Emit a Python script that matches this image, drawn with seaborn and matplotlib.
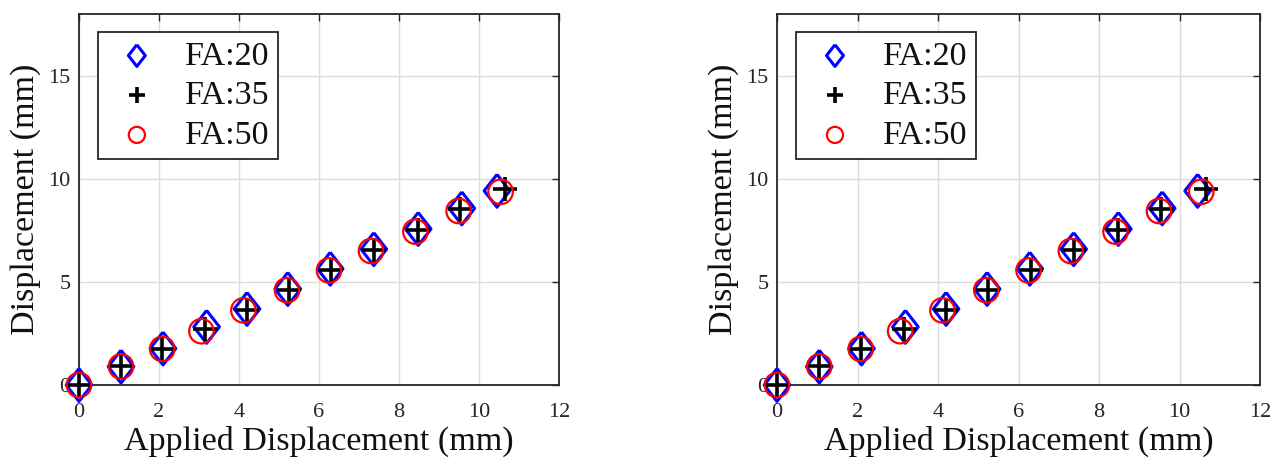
import numpy as np
import pandas as pd
import matplotlib
matplotlib.use("Agg")
import matplotlib.pyplot as plt
import seaborn as sns

# ---- data ----
labels = ["FA:20", "FA:35", "FA:50"]
x_fa20 = [0, 1.05, 2.10, 3.19, 4.20, 5.22, 6.28, 7.37, 8.48, 9.57, 10.45]
y_fa20 = [0, 0.89, 1.77, 2.82, 3.69, 4.66, 5.64, 6.59, 7.57, 8.57, 9.42]
x_fa35 = [0, 1.05, 2.08, 3.15, 4.20, 5.25, 6.30, 7.37, 8.48, 9.53, 10.66]
y_fa35 = [0, 0.90, 1.75, 2.74, 3.66, 4.62, 5.60, 6.56, 7.52, 8.53, 9.53]
x_fa50 = [0, 1.05, 2.08, 3.06, 4.11, 5.20, 6.25, 7.30, 8.41, 9.49, 10.54]
y_fa50 = [0, 0.90, 1.75, 2.61, 3.62, 4.60, 5.56, 6.50, 7.44, 8.44, 9.37]
xticks = [0, 2, 4, 6, 8, 10, 12]
yticks = [0, 5, 10, 15]
xlabel = "Applied Displacement (mm)"
ylabel = "Displacement (mm)"

sns.set_theme(style="white")
plt.rcParams["font.family"] = ["Liberation Serif", "DejaVu Serif"]
plt.rcParams["mathtext.fontset"] = "stix"

fig = plt.figure(figsize=(12.77, 4.61), dpi=100)
W, H = 1277, 461
ax_boxes = [
    [79 / W, (H - 385) / H, 480 / W, 371 / H],
    [777 / W, (H - 385) / H, 483 / W, 371 / H],
]

diamond = [(0, 1), (0.78, 0), (0, -1), (-0.78, 0), (0, 1)]
frame_color = "#262626"

series = [
    (x_fa20, y_fa20, labels[0], dict(marker=diamond, s=560, facecolor="none",
                                     edgecolor="#0000ff", linewidth=2.2)),
    (x_fa35, y_fa35, labels[1], dict(marker="+", s=320, color="black",
                                     linewidth=2.6)),
    (x_fa50, y_fa50, labels[2], dict(marker="o", s=310, facecolor="none",
                                     edgecolor="#ff0000", linewidth=1.6)),
]

for box in ax_boxes:
    ax = fig.add_axes(box)
    for xs, ys, lab, kw in series:
        df = pd.DataFrame({"x": xs, "y": ys})
        sns.scatterplot(data=df, x="x", y="y", ax=ax, label=lab, zorder=3,
                        clip_on=False, **kw)
    ax.set_xlim(0, 12)
    ax.set_ylim(0, 18)
    ax.set_xticks(xticks)
    ax.set_yticks(yticks)
    ax.set_xticklabels([str(t) for t in xticks])
    ax.set_yticklabels([str(t) for t in yticks])
    ax.grid(True, color="#dcdcdc", linewidth=1.0)
    ax.set_axisbelow(True)
    for sp in ax.spines.values():
        sp.set_visible(True)
        sp.set_color(frame_color)
        sp.set_linewidth(1.3)
    ax.tick_params(direction="in", top=True, right=True, length=5, width=1.0,
                   color=frame_color, labelsize=16, labelcolor="#262626")
    ax.tick_params(axis="x", pad=13)
    ax.tick_params(axis="y", pad=6)
    ax.set_xlabel(xlabel, fontsize=24.5, color="#111111", labelpad=2.5)
    ax.set_ylabel(ylabel, fontsize=24.5, color="#111111", labelpad=5)
    leg = ax.legend(loc="upper left", bbox_to_anchor=(0.039, 0.951),
                    borderaxespad=0, fontsize=24.5, markerscale=0.66,
                    frameon=True, fancybox=False, framealpha=1,
                    edgecolor="#262626", borderpad=0.25, labelspacing=0.26,
                    handlelength=1.8, handletextpad=0.5)
    leg.get_frame().set_linewidth(1.3)
    for t in leg.get_texts():
        t.set_color("#111111")

fig.savefig("out.png", dpi=100)
